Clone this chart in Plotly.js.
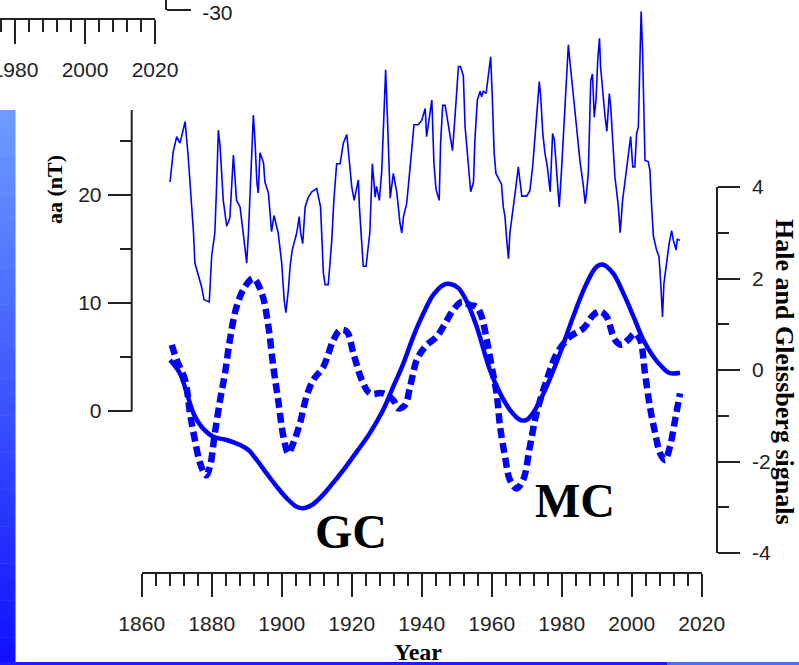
<!DOCTYPE html>
<html>
<head>
<meta charset="utf-8">
<script src="https://cdn.plot.ly/plotly-3.0.1.min.js"></script>
<style>
html,body{margin:0;padding:0;background:#fff;}
#chart{width:799px;height:665px;}
</style>
</head>
<body>
<div id="chart"></div>
<script>
// ---------------- data ----------------
const aaYears = [1868.1,1869.0,1870.0,1870.9,1871.4,1872.4,1873.3,1873.8,1874.3,1874.8,1875.2,1876.2,1877.1,1877.8,1879.3,1880.0,1880.9,1881.4,1881.9,1882.4,1883.3,1884.3,1885.2,1885.7,1886.2,1887.1,1888.1,1889.0,1890.0,1890.5,1890.9,1891.4,1891.9,1892.4,1892.9,1893.3,1893.8,1894.8,1895.2,1896.2,1896.7,1897.1,1897.8,1899.0,1900.0,1900.7,1901.2,1901.9,1902.4,1903.0,1904.3,1905.0,1905.4,1906.0,1906.7,1907.6,1908.6,1910.0,1911.1,1911.4,1911.9,1912.4,1913.3,1913.8,1914.3,1914.9,1915.7,1916.7,1917.6,1918.6,1919.3,1920.0,1920.7,1921.2,1921.9,1922.2,1922.9,1923.3,1924.1,1924.8,1925.2,1925.9,1926.7,1927.1,1927.9,1928.6,1929.2,1929.7,1930.2,1930.8,1931.0,1931.9,1932.9,1933.8,1934.3,1934.8,1935.7,1936.7,1937.4,1937.8,1939.0,1940.0,1941.0,1941.4,1942.9,1943.5,1944.1,1945.0,1945.4,1946.0,1946.7,1947.6,1948.8,1949.5,1950.0,1950.5,1951.1,1951.9,1952.4,1953.0,1953.6,1954.0,1954.8,1955.2,1955.9,1956.7,1957.1,1957.6,1958.4,1959.0,1959.7,1960.2,1960.7,1961.2,1962.4,1962.8,1963.3,1963.8,1964.3,1964.8,1965.2,1966.2,1966.7,1967.6,1968.1,1968.6,1970.0,1970.9,1971.7,1972.4,1973.0,1973.6,1974.0,1974.6,1975.2,1975.9,1976.7,1977.4,1977.9,1978.6,1979.3,1980.0,1980.9,1981.4,1981.9,1982.4,1983.3,1984.3,1985.2,1986.2,1986.7,1987.1,1987.6,1988.3,1988.8,1989.3,1989.8,1990.3,1990.8,1991.1,1991.7,1992.4,1992.9,1993.6,1994.0,1994.6,1995.2,1996.2,1996.7,1997.4,1998.1,1999.0,1999.7,2000.3,2000.9,2001.4,2001.9,2002.4,2002.7,2003.1,2003.5,2003.8,2004.7,2005.2,2005.7,2006.2,2007.1,2007.8,2008.3,2008.8,2009.2,2009.7,2010.2,2010.7,2011.4,2011.9,2012.7,2013.0,2013.8];
const aaValues = [21.2,24.0,25.4,24.8,25.4,26.8,23.5,21.2,18.8,16.5,13.7,12.4,11.5,10.3,10.1,14.4,16.5,20.8,26.0,24.5,19.5,17.1,17.9,20.8,23.7,19.5,18.9,16.5,13.7,16.5,19.8,23.2,27.4,24.8,21.2,20.2,23.9,23.0,21.2,20.2,18.0,16.6,18.1,16.5,13.7,10.3,9.1,11.2,13.4,14.9,16.5,18.0,16.5,15.5,18.9,19.8,20.3,20.6,18.9,15.8,12.8,11.7,11.7,13.7,15.8,19.5,22.9,22.9,24.8,25.6,23.3,20.8,19.5,20.2,21.4,18.9,15.5,13.4,13.4,15.2,16.6,22.9,19.8,20.8,19.5,22.3,27.2,31.6,27.2,22.0,19.7,22.0,20.2,17.4,16.5,18.0,19.2,22.6,24.8,26.5,26.5,26.9,28.0,25.4,28.8,22.9,20.5,19.5,24.8,28.3,28.3,26.3,24.1,27.2,29.3,31.9,31.9,31.0,26.3,23.9,21.2,20.3,21.2,25.1,28.8,29.6,29.1,29.6,29.4,31.0,32.8,28.8,23.9,22.0,21.2,21.0,18.9,18.0,15.8,14.1,16.5,18.7,20.2,22.6,21.2,19.9,19.9,20.4,22.6,25.4,27.9,30.5,29.1,25.7,23.9,22.6,20.3,25.7,25.1,21.7,18.9,22.6,27.9,30.6,33.9,32.2,29.3,25.7,23.2,20.8,19.2,20.2,22.0,30.6,31.2,27.2,28.8,32.5,34.5,31.9,29.4,27.2,25.9,29.4,28.2,24.8,21.7,18.9,16.5,19.5,21.2,23.9,25.4,22.6,22.6,25.7,26.3,33.1,37.0,33.4,26.9,23.2,23.1,22.3,18.9,16.2,14.9,14.3,11.8,8.7,11.8,13.2,14.6,15.5,16.7,15.8,14.9,15.9,15.8];

const gleissbergYears = [1868.1,1870.9,1872.9,1874.8,1877.1,1880.5,1884.3,1888.1,1890.5,1892.9,1895.7,1898.6,1901.4,1904.3,1906.2,1908.6,1910.9,1913.8,1917.6,1921.4,1925.2,1929.0,1931.9,1934.8,1937.6,1940.5,1943.3,1946.2,1948.1,1950.5,1952.9,1955.7,1959.5,1962.4,1965.2,1968.1,1970.0,1972.4,1975.7,1979.5,1983.3,1987.1,1990.0,1991.9,1994.7,1997.6,2000.5,2003.3,2006.2,2009.0,2010.9,2013.8];
const gleissbergValues = [0.22,-0.07,-0.51,-0.95,-1.24,-1.46,-1.53,-1.64,-1.75,-1.97,-2.26,-2.55,-2.80,-2.99,-3.02,-2.95,-2.80,-2.55,-2.19,-1.79,-1.38,-0.87,-0.36,0.15,0.73,1.24,1.64,1.86,1.88,1.79,1.49,0.95,0.00,-0.51,-0.87,-1.09,-1.09,-0.87,-0.36,0.36,1.17,1.89,2.26,2.30,2.11,1.68,1.17,0.66,0.29,0.04,-0.07,-0.06];

const haleYears = [1868.6,1870.0,1872.4,1873.8,1875.2,1876.7,1878.4,1879.5,1880.9,1882.4,1883.8,1885.2,1887.1,1889.5,1891.9,1894.3,1896.2,1897.6,1899.0,1900.5,1901.9,1903.3,1905.2,1907.1,1909.0,1911.9,1914.8,1916.7,1918.6,1920.5,1922.9,1925.2,1929.0,1931.9,1933.3,1935.2,1936.7,1938.6,1941.0,1944.3,1946.2,1949.0,1951.4,1953.8,1955.7,1957.1,1958.6,1960.0,1961.4,1962.4,1963.8,1965.2,1967.1,1969.0,1970.9,1972.8,1975.7,1978.6,1982.4,1986.2,1989.0,1990.9,1992.8,1995.2,1997.1,1999.0,2000.9,2002.4,2003.8,2005.2,2006.7,2008.1,2009.5,2010.9,2012.4,2013.8];
const haleValues = [0.55,0.22,-0.22,-0.95,-1.53,-2.04,-2.30,-2.11,-1.38,-0.66,-0.07,0.66,1.38,1.82,2.00,1.68,0.95,0.07,-0.66,-1.46,-1.82,-1.60,-1.17,-0.58,-0.22,0.07,0.66,0.87,0.84,0.36,-0.22,-0.51,-0.51,-0.66,-0.84,-0.77,-0.36,0.22,0.51,0.73,0.95,1.31,1.49,1.42,1.38,1.17,0.66,0.07,-0.51,-1.24,-1.89,-2.40,-2.59,-2.40,-1.68,-0.95,-0.22,0.36,0.73,0.91,1.20,1.28,1.17,0.66,0.55,0.66,0.80,0.66,-0.07,-0.80,-1.38,-1.82,-1.97,-1.68,-1.09,-0.51];

const yearTickVals = [1860,1880,1900,1920,1940,1960,1980,2000,2020];
const yearTickText = ['1860','1880','1900','1920','1940','1960','1980','2000','2020'];
const aaTickVals = [0,10,20];
const aaTickText = ['0','10','20'];
const aaMinorVals = [5,15,25];
const sigTickVals = [-4,-2,0,2,4];
const sigTickText = ['-4','-2','0','2','4'];
const fragXTickVals = [1980,2000,2020];
const fragXTickText = ['1980','2000','2020'];
const fragYTickVals = [-30];
const fragYTickText = ['-30'];

// ---------------- layout helpers (pixel -> paper) ----------------
const W = 799, H = 665;
const fx = p => p / W;
const fy = p => 1 - p / H;
const AX = '#222222';
const BLUE = '#0000ff';
const tickFont = {family: 'Liberation Sans, Arial, sans-serif', size: 21, color: '#222'};
const serifBold = s => ({family: 'Liberation Serif, Times New Roman, serif', size: s, color: '#000', weight: 'bold'});

const traces = [
  {x: aaYears, y: aaValues, xaxis: 'x', yaxis: 'y', type: 'scatter', mode: 'lines',
   line: {color: BLUE, width: 1.6}, hoverinfo: 'skip'},
  {x: gleissbergYears, y: gleissbergValues, xaxis: 'x', yaxis: 'y2', type: 'scatter', mode: 'lines',
   line: {color: BLUE, width: 4.5, shape: 'spline', smoothing: 1}, hoverinfo: 'skip'},
  {x: haleYears, y: haleValues, xaxis: 'x', yaxis: 'y2', type: 'scatter', mode: 'lines',
   line: {color: BLUE, width: 6.5, dash: '10px,5px', shape: 'spline', smoothing: 1}, hoverinfo: 'skip'},
  {x: [], y: [], xaxis: 'x3', yaxis: 'y3', type: 'scatter', mode: 'lines', hoverinfo: 'skip'}
];

const shapes = [];
// gradient bar at left edge (decoration)
const barTop = 110, barBot = 665, nBands = 60;
const c0 = [108, 156, 255], c1 = [16, 16, 255];
for (let i = 0; i < nBands; i++) {
  const t = i / (nBands - 1);
  const c = c0.map((v, k) => Math.round(v + (c1[k] - v) * t));
  const y0 = barTop + (barBot - barTop) * i / nBands;
  const y1 = barTop + (barBot - barTop) * (i + 1) / nBands + 0.5;
  shapes.push({type: 'rect', xref: 'paper', yref: 'paper', x0: 0, x1: fx(15.5), y0: fy(y1), y1: fy(y0),
    line: {width: 0}, fillcolor: `rgb(${c[0]},${c[1]},${c[2]})`, layer: 'below'});
}
// bottom strip
shapes.push({type: 'rect', xref: 'paper', yref: 'paper', x0: 0, x1: fx(667), y0: 0, y1: fy(662),
  line: {width: 0}, fillcolor: '#1d1dff', layer: 'above'});
shapes.push({type: 'rect', xref: 'paper', yref: 'paper', x0: fx(667), x1: 1, y0: 0, y1: fy(662),
  line: {width: 0}, fillcolor: '#3f74ff', layer: 'above'});
// left aa axis line (shorter than its subplot)
shapes.push({type: 'line', xref: 'paper', yref: 'paper', x0: fx(131.7), x1: fx(131.7), y0: fy(411), y1: fy(110),
  line: {color: AX, width: 2}});

const layout = {
  width: W, height: H,
  margin: {l: 0, r: 0, t: 0, b: 0},
  paper_bgcolor: '#ffffff', plot_bgcolor: 'rgba(0,0,0,0)',
  showlegend: false,
  xaxis: {
    domain: [fx(141.7), fx(701.7)], range: [1860, 2020], anchor: 'free', position: fy(573.3),
    showline: true, linecolor: AX, linewidth: 2, showgrid: false, zeroline: false,
    ticks: 'outside', ticklen: 23, tickwidth: 2, tickcolor: AX,
    tickmode: 'array', tickvals: yearTickVals, ticktext: yearTickText, tickfont: tickFont,
    ticklabelstandoff: 8, ticklabeloverflow: 'allow',
    minor: {ticks: 'outside', ticklen: 12, tickwidth: 2, tickcolor: AX, dtick: 4, tick0: 1860, showgrid: false}
  },
  yaxis: {
    domain: [fy(411), 1], range: [0, 411 / 10.8], anchor: 'free', position: fx(131.7), side: 'left',
    showline: false, showgrid: false, zeroline: false,
    ticks: 'outside', ticklen: 24, tickwidth: 2, tickcolor: AX,
    tickmode: 'array', tickvals: aaTickVals, ticktext: aaTickText, tickfont: tickFont,
    ticklabelstandoff: 2, ticklabeloverflow: 'allow',
    minor: {ticks: 'outside', ticklen: 12, tickwidth: 2, tickcolor: AX, tickmode: 'array', tickvals: aaMinorVals, showgrid: false}
  },
  yaxis2: {
    domain: [fy(553), fy(187)], range: [-4, 4], anchor: 'free', position: fx(716.7), side: 'right',
    showline: true, linecolor: AX, linewidth: 2, showgrid: false, zeroline: false,
    ticks: 'outside', ticklen: 22, tickwidth: 2, tickcolor: AX,
    tickmode: 'array', tickvals: sigTickVals, ticktext: sigTickText, tickfont: tickFont,
    ticklabelstandoff: 8, ticklabeloverflow: 'allow',
    minor: {ticks: 'outside', ticklen: 11, tickwidth: 2, tickcolor: AX, dtick: 1, tick0: 0, showgrid: false}
  },
  xaxis3: {
    domain: [0, fx(155)], range: [2020 - 155 / 3.5, 2020], anchor: 'free', position: fy(19),
    showline: true, linecolor: AX, linewidth: 2, showgrid: false, zeroline: false,
    ticks: 'outside', ticklen: 24, tickwidth: 2, tickcolor: AX,
    tickmode: 'array', tickvals: fragXTickVals, ticktext: fragXTickText, tickfont: tickFont,
    ticklabelstandoff: 8, ticklabeloverflow: 'allow',
    minor: {ticks: 'outside', ticklen: 12, tickwidth: 2, tickcolor: AX, dtick: 4, tick0: 1980, showgrid: false}
  },
  yaxis3: {
    domain: [fy(10), 1], range: [-30, -29], anchor: 'free', position: fx(166), side: 'right',
    showline: true, linecolor: AX, linewidth: 2, showgrid: false, zeroline: false,
    ticks: 'outside', ticklen: 24, tickwidth: 2, tickcolor: AX,
    tickmode: 'array', tickvals: fragYTickVals, ticktext: fragYTickText, tickfont: tickFont,
    ticklabelstandoff: 7, ticklabelshift: 3, ticklabeloverflow: 'allow'
  },
  shapes: shapes,
  annotations: [
    {text: 'GC', xref: 'x', yref: 'y2', x: 1919.8, y: -3.53, xanchor: 'center', yanchor: 'middle', showarrow: false, font: serifBold(48)},
    {text: 'MC', xref: 'x', yref: 'y2', x: 1983.8, y: -2.85, xanchor: 'center', yanchor: 'middle', showarrow: false, font: serifBold(48)},
    {text: 'aa (nT)', xref: 'paper', yref: 'paper', x: fx(54), y: fy(190), xanchor: 'center', yanchor: 'middle', textangle: -90, showarrow: false, font: serifBold(22)},
    {text: 'Hale and Gleissberg signals', xref: 'paper', yref: 'paper', x: fx(784), y: fy(372), xanchor: 'center', yanchor: 'middle', textangle: 90, showarrow: false, font: serifBold(26)},
    {text: 'Year', xref: 'paper', yref: 'paper', x: fx(418), y: fy(652), xanchor: 'center', yanchor: 'middle', showarrow: false, font: serifBold(24)}
  ]
};

Plotly.newPlot('chart', traces, layout, {displayModeBar: false, staticPlot: true});
</script>
</body>
</html>
